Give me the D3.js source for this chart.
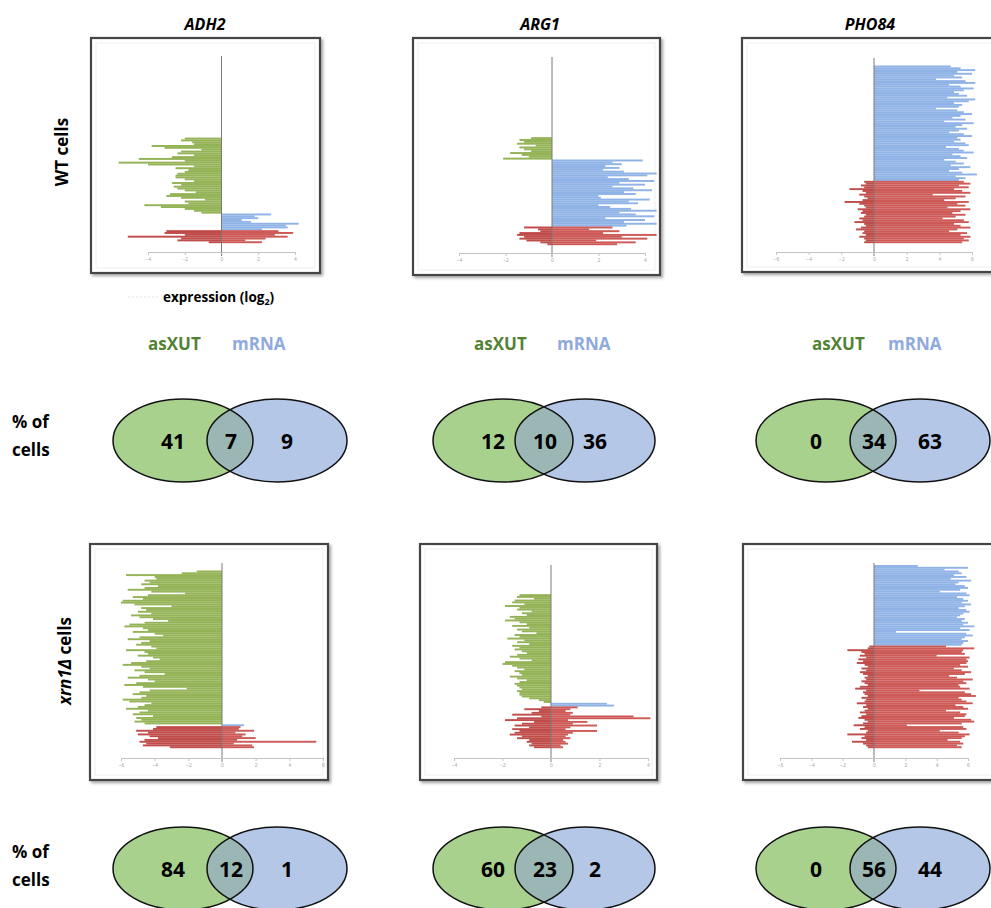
<!DOCTYPE html>
<html>
<head>
<meta charset="utf-8">
<script src="https://cdn.jsdelivr.net/npm/d3@7"></script>
<style>
  body { margin: 0; background: #fff; }
  svg { display: block; }
  .lbl { font-family: "Open Sans", "Noto Sans", sans-serif; font-weight: 700; }
</style>
</head>
<body>
<div id="chart"></div>
<script>
// gene columns and row labels
const genes = ["ADH2", "ARG1", "PHO84"];

// axis tick labels (log2 expression) per panel
const ticksWT = [[-4, -2, 0, 2, 4], [-4, -2, 0, 2, 4], [-6, -4, -2, 0, 2, 4, 6]];
const ticksXrn1 = [[-6, -4, -2, 0, 2, 4, 6], [-4, -2, 0, 2, 4], [-6, -4, -2, 0, 2, 4, 6]];

// ---- WT cells: one value per cell (log2 expression) ----
// ADH2
const adh2WtXut = [2.0,2.2,1.6,1.5,3.8,3.1,1.1,2.2,2.4,1.5,2.7,4.5,2.0,5.6,4.0,1.5,2.5,1.8,2.0,2.4,2.5,2.5,2.0,1.5,2.7,2.2,2.6,2.4,2.0,1.4,2.8,3.0,2.2,0.9,2.0,1.8,4.2,3.3,2.0,1.5,1.1];
const adh2WtMrna = [2.7,1.8,2.0,1.1,1.6,4.2,3.5,3.6,2.2];
const adh2WtBothXut = [3.0,3.1,2.0,5.1,2.2,2.4,0.7];
const adh2WtBothMrna = [3.1,3.9,2.9,3.6,2.4,1.3,2.2];
// ARG1
const arg1WtXut = [0.9,1.4,1.2,1.5,0.7,1.4,1.2,0.9,1.8,1.3,1.0,2.1];
const arg1WtMrna = [3.9,2.6,3.0,2.3,2.9,2.2,3.1,4.5,4.1,2.4,3.3,4.4,2.9,4.0,2.6,3.5,4.3,3.1,3.6,2.0,2.1,4.2,3.3,3.7,2.0,2.5,3.4,4.5,2.9,3.6,4.4,2.3,4.0,3.1,4.5,3.2];
const arg1WtBothXut = [1.2,0.6,0.5,1.4,1.5,1.2,1.4,1.1,0.5,0.2];
const arg1WtBothMrna = [2.6,1.6,2.9,2.2,4.5,3.0,4.1,1.9,3.6,2.8];
// PHO84
const pho84WtXut = [];
const pho84WtMrna = [4.7,5.3,6.2,5.1,6.0,4.9,5.4,3.8,5.6,6.2,4.6,5.3,6.1,5.5,4.9,5.2,5.7,4.5,6.2,5.8,4.9,5.4,5.2,3.8,5.1,5.5,6.0,5.3,4.8,5.6,4.3,6.1,5.4,5.0,5.7,5.2,4.6,5.5,6.0,5.1,5.3,4.9,5.6,5.8,4.4,5.2,5.5,6.1,4.8,5.3,5.7,4.3,5.0,5.5,4.7,5.9,5.2,4.6,5.4,6.3,5.0,5.6,5.2];
const pho84WtBothXut = [0.6,0.5,0.8,0.6,1.5,0.7,0.5,0.9,0.6,0.4,0.7,1.8,0.9,0.6,0.5,1.0,0.7,0.8,0.5,0.6,0.9,0.7,1.2,0.6,0.5,0.8,1.1,0.6,0.7,0.5,0.9,0.6,0.5,0.6];
const pho84WtBothMrna = [5.5,5.9,5.2,5.8,4.9,5.4,5.9,3.6,5.6,5.0,4.3,5.8,5.1,5.6,4.5,5.9,5.3,4.8,5.6,5.0,4.2,5.5,5.8,4.9,5.3,5.9,5.1,4.6,5.7,5.3,5.9,5.5,5.8,5.4];

// ---- xrn1Δ cells ----
const adh2XrnXut = [1.5,2.4,5.7,4.0,3.9,4.6,4.3,4.8,3.8,4.6,5.6,4.2,2.2,4.4,5.3,4.7,5.9,6.0,5.2,3.0,4.8,4.5,5.0,4.2,5.4,4.9,4.1,3.2,4.6,5.5,5.8,4.7,4.4,5.3,4.0,3.5,4.9,5.6,4.3,4.8,5.1,4.2,3.9,5.7,4.6,4.4,5.0,4.1,3.7,4.5,5.4,5.9,4.8,4.3,5.2,4.6,3.4,4.9,5.6,4.4,4.0,5.1,5.8,4.7,2.1,4.3,4.9,5.3,4.5,4.8,5.9,5.5,4.2,4.6,5.0,5.7,4.4,4.9,5.3,4.1,5.1,4.8,5.2,4.6];
const adh2XrnMrna = [1.3];
const adh2XrnBothXut = [3.9,4.1,5.1,4.4,5.0,4.3,3.8,4.6,4.9,4.5,4.7,3.1];
const adh2XrnBothMrna = [1.1,1.0,1.9,0.8,1.4,1.2,2.0,0.9,5.6,0.7,1.8,1.9];
const arg1XrnXut = [1.3,1.4,0.7,1.5,1.6,1.1,1.9,1.3,1.4,0.8,1.2,1.0,1.7,1.5,1.9,1.3,1.0,1.6,0.9,1.4,1.2,0.6,1.5,1.3,1.8,1.1,1.4,0.9,1.6,1.3,1.5,1.2,1.0,1.4,1.7,1.3,0.8,1.9,2.0,1.6,1.4,1.1,1.5,1.3,1.2,1.7,1.4,1.0,1.3,1.5,1.4,1.3,1.2,1.4,1.3,1.3,1.2,0.9,0.5,0.3];
const arg1XrnMrna = [2.3,2.6];
const arg1XrnBothXut = [0.4,1.1,0.5,0.8,1.6,0.4,1.4,1.9,0.7,1.2,1.5,0.9,1.6,1.3,1.5,1.7,1.2,1.4,0.9,1.0,0.8,0.9,0.7];
const arg1XrnBothMrna = [1.1,0.8,0.6,0.9,0.8,3.4,4.1,0.7,1.5,0.9,1.9,0.8,0.6,1.9,0.9,0.7,0.6,0.8,0.5,0.6,0.7,0.4,0.5];
const pho84XrnXut = [];
const pho84XrnMrna = [2.8,6.0,4.5,5.4,5.6,5.1,5.9,4.9,6.2,5.4,5.2,5.8,6.0,5.5,4.2,5.9,6.1,5.3,5.7,6.0,5.6,6.2,5.8,5.4,5.9,6.1,5.7,5.5,5.3,5.8,5.6,6.0,5.7,6.4,5.5,6.1,1.4,5.9,6.3,5.8,5.6,6.0,5.7,5.6];
const pho84XrnBothXut = [0.3,0.4,1.7,0.8,0.6,0.9,0.5,1.0,0.7,1.1,0.6,0.4,0.8,0.5,0.9,0.7,0.4,0.6,0.5,0.8,0.6,0.4,0.9,1.2,0.5,0.7,0.6,0.4,0.8,0.5,0.6,1.1,0.5,0.7,0.4,0.6,0.9,0.5,0.8,1.0,0.6,0.4,0.7,1.3,0.6,0.9,0.4,0.5,1.7,0.6,0.8,0.5,1.4,0.7,0.5,0.4];
const pho84XrnBothMrna = [4.6,6.4,5.7,5.6,5.8,4.0,6.1,5.9,6.0,5.9,5.5,6.0,5.1,5.6,6.2,5.8,4.8,5.3,6.3,5.7,5.9,5.4,5.5,6.1,2.9,5.8,6.2,6.5,5.4,5.6,5.9,6.3,5.2,5.7,6.0,4.6,5.5,5.9,5.8,5.1,6.2,6.4,5.6,2.1,5.7,5.9,4.2,5.4,6.1,5.8,5.6,4.7,5.5,5.7,5.3,5.6];

// Venn percentages: [asXUT only, both, mRNA only]
const vennWT = [[41, 7, 9], [12, 10, 36], [0, 34, 63]];
const vennXrn1 = [[84, 12, 1], [60, 23, 2], [0, 56, 44]];

const width = 991, height = 908;
const svg = d3.select('#chart').append('svg')
  .attr('width', width).attr('height', height);

const colors = { xut: '#94b356', mrna: '#8fb3e6', bothL: '#c04c4a', bothR: '#cd5a57' };

const defs = svg.append('defs');
const shadow = defs.append('filter').attr('id', 'shadow')
  .attr('x', '-5%').attr('y', '-5%').attr('width', '115%').attr('height', '115%');
shadow.append('feDropShadow').attr('dx', 2).attr('dy', 2).attr('stdDeviation', 1.5)
  .attr('flood-color', '#000').attr('flood-opacity', 0.35);

const panels = [
  { frame: [91, 38, 229, 235], axisY: 252, xr: [148, 295], rows: [58, 243], ticks: ticksWT[0],
    xut: adh2WtXut, mrna: adh2WtMrna, bx: adh2WtBothXut, bm: adh2WtBothMrna },
  { frame: [413, 38, 247, 237], axisY: 253, xr: [459, 645], rows: [59, 245], ticks: ticksWT[1],
    xut: arg1WtXut, mrna: arg1WtMrna, bx: arg1WtBothXut, bm: arg1WtBothMrna },
  { frame: [742, 38, 256, 234], axisY: 252, xr: [776, 972], rows: [60, 243], ticks: ticksWT[2],
    xut: pho84WtXut, mrna: pho84WtMrna, bx: pho84WtBothXut, bm: pho84WtBothMrna },
  { frame: [90, 544, 238, 236], axisY: 758, xr: [121, 323], rows: [565, 748], ticks: ticksXrn1[0],
    xut: adh2XrnXut, mrna: adh2XrnMrna, bx: adh2XrnBothXut, bm: adh2XrnBothMrna },
  { frame: [420, 544, 237, 236], axisY: 758, xr: [454, 648], rows: [567, 748], ticks: ticksXrn1[1],
    xut: arg1XrnXut, mrna: arg1XrnMrna, bx: arg1XrnBothXut, bm: arg1XrnBothMrna },
  { frame: [743, 544, 256, 236], axisY: 758, xr: [780, 968], rows: [565, 748], ticks: ticksXrn1[2],
    xut: pho84XrnXut, mrna: pho84XrnMrna, bx: pho84XrnBothXut, bm: pho84XrnBothMrna }
];

panels.forEach(p => {
  const g = svg.append('g');
  const [fx, fy, fw, fh] = p.frame;
  g.append('rect').attr('x', fx).attr('y', fy).attr('width', fw).attr('height', fh)
    .attr('fill', '#fff').attr('stroke', '#444').attr('stroke-width', 2.2)
    .attr('filter', 'url(#shadow)');
  g.append('rect').attr('x', fx + 5).attr('y', fy + 5).attr('width', fw - 10).attr('height', fh - 10)
    .attr('fill', 'none').attr('stroke', '#efefef').attr('stroke-width', 1);

  // cells, top rows are cells with neither transcript
  const cells = [
    ...p.xut.map(v => ({ xut: v, type: 'xut' })),
    ...p.mrna.map(v => ({ mrna: v, type: 'mrna' })),
    ...p.bx.map((v, i) => ({ xut: v, mrna: p.bm[i], type: 'both' }))
  ];
  const offset = 100 - cells.length;
  cells.forEach((c, i) => c.idx = offset + i);

  const x = d3.scaleLinear().domain([p.ticks[0], p.ticks[p.ticks.length - 1]]).range(p.xr);
  const y = d3.scaleBand().domain(d3.range(100)).range(p.rows).paddingInner(0.06);

  g.selectAll('.neg').data(cells.filter(c => c.xut != null)).enter().append('rect')
    .attr('x', d => x(-d.xut)).attr('width', d => x(0) - x(-d.xut))
    .attr('y', d => y(d.idx)).attr('height', y.bandwidth() + 0.2)
    .attr('fill', d => d.type === 'both' ? colors.bothL : colors.xut);
  g.selectAll('.pos').data(cells.filter(c => c.mrna != null)).enter().append('rect')
    .attr('x', x(0)).attr('width', d => x(d.mrna) - x(0))
    .attr('y', d => y(d.idx)).attr('height', y.bandwidth() + 0.2)
    .attr('fill', d => d.type === 'both' ? colors.bothR : colors.mrna);

  // zero line
  g.append('line').attr('x1', x(0)).attr('x2', x(0))
    .attr('y1', p.rows[0] - 2).attr('y2', p.axisY + 4)
    .attr('stroke', '#7a7a7a').attr('stroke-width', 1);

  const axis = g.append('g').attr('transform', `translate(0,${p.axisY})`)
    .call(d3.axisBottom(x).tickValues(p.ticks).tickSize(3).tickSizeOuter(0));
  axis.select('.domain').attr('stroke', '#c4c4c4');
  axis.selectAll('.tick line').attr('stroke', '#c4c4c4');
  axis.selectAll('.tick text').attr('fill', '#a8a8a8').attr('font-size', 5).attr('dy', '0.5em');
});

// column titles
const titleX = [205, 540, 870];
svg.selectAll('.title').data(genes).enter().append('text')
  .attr('class', 'lbl').attr('x', (d, i) => titleX[i]).attr('y', 30)
  .attr('text-anchor', 'middle').attr('font-size', 16).attr('font-style', 'italic')
  .text(d => d);

// row labels
svg.append('text').attr('class', 'lbl').attr('font-size', 17)
  .attr('transform', 'translate(68,152) rotate(-90)').attr('text-anchor', 'middle')
  .text('WT cells');
const xl = svg.append('text').attr('class', 'lbl').attr('font-size', 17)
  .attr('transform', 'translate(71,661) rotate(-90)').attr('text-anchor', 'middle');
xl.append('tspan').attr('font-style', 'italic').text('xrn1Δ');
xl.append('tspan').text(' cells');

// axis title
svg.append('line').attr('x1', 128).attr('x2', 160).attr('y1', 297).attr('y2', 297)
  .attr('stroke', '#e2e2e2').attr('stroke-dasharray', '2,2');
const et = svg.append('text').attr('class', 'lbl').attr('x', 163).attr('y', 302).attr('font-size', 13.5);
et.append('tspan').text('expression (log');
et.append('tspan').attr('font-size', 9).attr('dy', 3).text('2');
et.append('tspan').attr('dy', -3).text(')');

// legends
const legX = [[148, 232], [474, 557], [812, 888]];
legX.forEach(([a, b]) => {
  svg.append('text').attr('class', 'lbl').attr('x', a).attr('y', 350).attr('font-size', 17)
    .attr('fill', '#548235').text('asXUT');
  svg.append('text').attr('class', 'lbl').attr('x', b).attr('y', 350).attr('font-size', 17)
    .attr('fill', '#8faadc').text('mRNA');
});

// "% of cells" labels
[428, 858].forEach(by => {
  const t = svg.append('text').attr('class', 'lbl').attr('font-size', 17);
  t.append('tspan').attr('x', 12).attr('y', by).text('% of');
  t.append('tspan').attr('x', 12).attr('y', by + 28).text('cells');
});

// Venn diagrams
const vennCx = [[183, 277], [503, 585], [826, 920]];
function drawVenn(vals, cy, tag) {
  vals.forEach((v, i) => {
    const [gx, bx] = vennCx[i], rx = 70, ry = 41.5;
    const g = svg.append('g');
    const cid = `clip-${tag}-${i}`;
    g.append('clipPath').attr('id', cid).append('ellipse')
      .attr('cx', gx).attr('cy', cy).attr('rx', rx).attr('ry', ry);
    g.append('ellipse').attr('cx', gx).attr('cy', cy).attr('rx', rx).attr('ry', ry)
      .attr('fill', '#a9d18e');
    g.append('ellipse').attr('cx', bx).attr('cy', cy).attr('rx', rx).attr('ry', ry)
      .attr('fill', '#b4c7e7');
    g.append('ellipse').attr('cx', bx).attr('cy', cy).attr('rx', rx).attr('ry', ry)
      .attr('fill', '#9bb7b5').attr('clip-path', `url(#${cid})`);
    g.append('ellipse').attr('cx', gx).attr('cy', cy).attr('rx', rx).attr('ry', ry)
      .attr('fill', 'none').attr('stroke', '#111').attr('stroke-width', 1.5);
    g.append('ellipse').attr('cx', bx).attr('cy', cy).attr('rx', rx).attr('ry', ry)
      .attr('fill', 'none').attr('stroke', '#111').attr('stroke-width', 1.5);
    const pos = [gx - 10, (gx + rx + bx - rx) / 2 + 1, bx + 10];
    g.selectAll('text').data(v).enter().append('text').attr('class', 'lbl')
      .attr('x', (d, j) => pos[j]).attr('y', cy + 8).attr('text-anchor', 'middle')
      .attr('font-size', 21).text(d => d);
  });
}
drawVenn(vennWT, 440.5, 'wt');
drawVenn(vennXrn1, 868.5, 'xrn');
</script>
</body>
</html>
